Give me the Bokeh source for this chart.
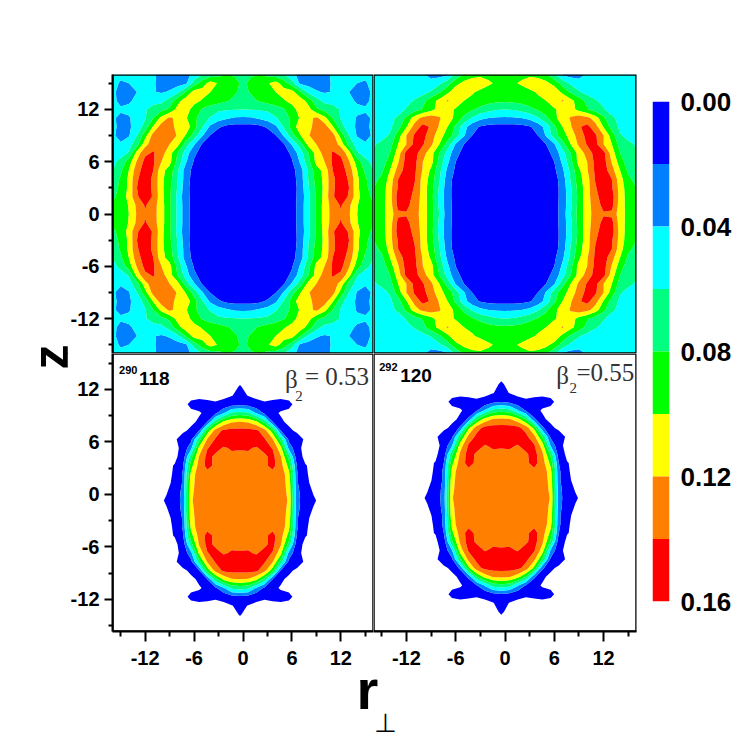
from bokeh.embed import file_html
from bokeh.layouts import column, row
from bokeh.models import BoxAnnotation, FixedTicker, Label, NumeralTickFormatter, Range1d
from bokeh.plotting import figure
from bokeh.resources import INLINE
import numpy as np

# colour bands, density levels
colors = ["#0000ff", "#0080ff", "#00ffff", "#00ff80", "#00ff00", "#ffff00", "#ff8000", "#ff0000"]
levels = [0.0, 0.02, 0.04, 0.06, 0.08, 0.10, 0.12, 0.14, 0.16]
levels_low = [0.002, 0.02, 0.04, 0.06, 0.08, 0.10, 0.12, 0.14, 0.16]
bar_ticks = [0.0, 0.04, 0.08, 0.12, 0.16]
major_ticks = [-12, -6, 0, 6, 12]
minor_ticks = [-15, -9, -3, 3, 9, 15]

# quarter grid: rows z=0..16, columns r=0..16, density x 1000
grid = list(range(17))

density_118_top = [
    [2, 2, 2, 3, 4, 6, 11, 28, 55, 84, 108, 128, 138, 122, 100, 90, 84],
    [2, 2, 2, 3, 4, 6, 11, 28, 55, 84, 108, 129, 142, 124, 101, 90, 83],
    [2, 2, 2, 3, 4, 6, 11, 27, 54, 84, 106, 138, 150, 138, 106, 88, 75],
    [2, 2, 2, 3, 4, 6, 10, 27, 58, 84, 105, 136, 152, 140, 104, 85, 70],
    [2, 2, 2, 3, 4, 6, 10, 30, 60, 88, 105, 136, 150, 138, 104, 83, 66],
    [2, 2, 3, 3, 4, 7, 13, 30, 62, 92, 106, 140, 150, 132, 100, 76, 60],
    [2, 2, 3, 3, 5, 8, 18, 42, 73, 106, 120, 143, 146, 122, 90, 66, 54],
    [2, 3, 3, 4, 6, 12, 24, 50, 79, 108, 128, 142, 136, 108, 62, 52, 48],
    [3, 3, 4, 5, 9, 18, 42, 70, 106, 120, 132, 133, 112, 72, 52, 42, 46],
    [4, 4, 5, 8, 19, 42, 72, 98, 118, 130, 139, 128, 92, 60, 38, 34, 43],
    [13, 12, 15, 23, 36, 62, 88, 112, 115, 126, 130, 102, 68, 48, 37, 36, 44],
    [37, 38, 43, 48, 58, 70, 85, 102, 114, 124, 106, 80, 58, 48, 38, 37, 42],
    [60, 61, 62, 64, 70, 78, 92, 108, 108, 84, 74, 68, 58, 50, 45, 42, 44],
    [70, 75, 82, 88, 92, 98, 106, 112, 92, 68, 54, 52, 48, 45, 37, 36, 44],
    [75, 82, 90, 96, 100, 108, 108, 82, 55, 42, 38, 41, 40, 40, 34, 34, 44],
    [76, 85, 92, 98, 108, 90, 68, 36, 32, 32, 34, 42, 46, 46, 40, 38, 46],
    [74, 78, 80, 74, 68, 60, 46, 33, 30, 30, 33, 44, 48, 46, 44, 44, 48],
]

density_120_top = [
    [2, 2, 2, 3, 4, 6, 12, 28, 60, 88, 112, 128, 138, 136, 108, 94, 95],
    [2, 2, 2, 3, 4, 6, 12, 28, 56, 88, 112, 130, 146, 146, 110, 92, 92],
    [2, 2, 2, 3, 4, 6, 12, 27, 55, 87, 112, 134, 150, 148, 112, 90, 86],
    [2, 2, 2, 3, 4, 6, 11, 28, 58, 88, 112, 138, 154, 142, 112, 88, 80],
    [2, 2, 3, 3, 4, 7, 12, 30, 62, 92, 112, 142, 154, 140, 108, 84, 74],
    [2, 2, 3, 3, 5, 8, 16, 36, 66, 96, 118, 144, 150, 128, 100, 76, 68],
    [2, 3, 3, 4, 6, 14, 20, 44, 74, 108, 120, 146, 148, 118, 90, 68, 64],
    [3, 3, 3, 4, 8, 14, 26, 52, 80, 108, 128, 148, 146, 110, 80, 62, 62],
    [3, 3, 4, 6, 10, 20, 38, 72, 100, 124, 142, 146, 120, 100, 72, 64, 58],
    [4, 4, 5, 9, 20, 42, 70, 92, 108, 130, 146, 143, 120, 90, 62, 54, 48],
    [13, 12, 14, 18, 28, 48, 76, 100, 118, 138, 146, 128, 98, 72, 56, 50, 46],
    [37, 38, 40, 45, 58, 76, 95, 110, 122, 132, 126, 110, 84, 64, 54, 48, 44],
    [60, 62, 66, 74, 82, 90, 98, 106, 110, 92, 82, 70, 62, 50, 46, 44, 44],
    [84, 85, 88, 92, 96, 100, 110, 122, 106, 90, 74, 62, 54, 48, 46, 44, 44],
    [90, 92, 94, 96, 102, 110, 116, 94, 76, 62, 52, 46, 43, 43, 43, 43, 44],
    [95, 98, 102, 110, 112, 106, 92, 72, 56, 46, 42, 41, 41, 42, 44, 44, 46],
    [92, 94, 96, 96, 92, 82, 64, 36, 32, 34, 42, 44, 46, 46, 46, 46, 48],
]

density_118_bottom = [
    [130, 130, 130, 130, 130, 128, 118, 28, 6, 3, 0, 0, 0, 0, 0, 0, 0],
    [130, 130, 130, 130, 130, 128, 116, 26, 5.5, 1.5, 0, 0, 0, 0, 0, 0, 0],
    [130, 130, 130, 130, 131, 128, 114, 22, 4, 0, 0, 0, 0, 0, 0, 0, 0],
    [132, 132, 132, 132, 133, 135, 105, 22, 3, 0, 0, 0, 0, 0, 0, 0, 0],
    [132, 133, 134, 136, 146, 128, 92, 18, 2.5, 0, 0, 0, 0, 0, 0, 0, 0],
    [134, 136, 137, 136, 146, 122, 72, 6, 0, 0, 0, 0, 0, 0, 0, 0, 0],
    [142, 142, 138, 146, 139, 106, 34, 4, 0, 0, 0, 0, 0, 0, 0, 0, 0],
    [146, 148, 150, 142, 122, 72, 14, 7, 0.4, 0, 0, 0, 0, 0, 0, 0, 0],
    [146, 146, 144, 128, 88, 20, 4, 0, 0, 0, 0, 0, 0, 0, 0, 0, 0],
    [120, 118, 104, 72, 20, 3.5, 0, 0, 0, 0, 0, 0, 0, 0, 0, 0, 0],
    [68, 64, 38, 16, 4, 1.2, 0.5, 0, 0, 0, 0, 0, 0, 0, 0, 0, 0],
    [15, 12, 5, 3, 4, 5, 3.5, 0, 0, 0, 0, 0, 0, 0, 0, 0, 0],
    [6, 1.5, 0, 0, 0, 0, 0, 0, 0, 0, 0, 0, 0, 0, 0, 0, 0],
    [2.5, 0, 0, 0, 0, 0, 0, 0, 0, 0, 0, 0, 0, 0, 0, 0, 0],
    [0, 0, 0, 0, 0, 0, 0, 0, 0, 0, 0, 0, 0, 0, 0, 0, 0],
    [0, 0, 0, 0, 0, 0, 0, 0, 0, 0, 0, 0, 0, 0, 0, 0, 0],
    [0, 0, 0, 0, 0, 0, 0, 0, 0, 0, 0, 0, 0, 0, 0, 0, 0],
]

density_120_bottom = [
    [130, 130, 130, 130, 130, 128, 119, 30, 6, 3, 0, 0, 0, 0, 0, 0, 0],
    [130, 130, 130, 130, 130, 128, 117, 28, 5.5, 1.5, 0, 0, 0, 0, 0, 0, 0],
    [130, 130, 130, 130, 131, 129, 115, 24, 4, 0, 0, 0, 0, 0, 0, 0, 0],
    [132, 132, 132, 132, 134, 136, 107, 24, 3, 0, 0, 0, 0, 0, 0, 0, 0],
    [132, 133, 134, 136, 147, 130, 94, 20, 2.5, 0, 0, 0, 0, 0, 0, 0, 0],
    [134, 136, 137, 137, 148, 124, 76, 8, 0, 0, 0, 0, 0, 0, 0, 0, 0],
    [143, 143, 139, 148, 142, 110, 38, 4, 0, 0, 0, 0, 0, 0, 0, 0, 0],
    [148, 150, 152, 145, 126, 78, 16, 7, 0.4, 0, 0, 0, 0, 0, 0, 0, 0],
    [148, 148, 146, 132, 94, 24, 4, 0, 0, 0, 0, 0, 0, 0, 0, 0, 0],
    [124, 122, 108, 78, 24, 3.5, 0, 0, 0, 0, 0, 0, 0, 0, 0, 0, 0],
    [72, 68, 42, 18, 4.5, 1.2, 0.5, 0, 0, 0, 0, 0, 0, 0, 0, 0, 0],
    [18, 14, 5, 3, 4, 5, 3.5, 0, 0, 0, 0, 0, 0, 0, 0, 0, 0],
    [7, 1.5, 0, 0, 0, 0, 0, 0, 0, 0, 0, 0, 0, 0, 0, 0, 0],
    [3, 0, 0, 0, 0, 0, 0, 0, 0, 0, 0, 0, 0, 0, 0, 0, 0],
    [0, 0, 0, 0, 0, 0, 0, 0, 0, 0, 0, 0, 0, 0, 0, 0, 0],
    [0, 0, 0, 0, 0, 0, 0, 0, 0, 0, 0, 0, 0, 0, 0, 0, 0],
    [0, 0, 0, 0, 0, 0, 0, 0, 0, 0, 0, 0, 0, 0, 0, 0, 0],
]

SANS = "Liberation Sans"
tick_text = {t: str(t) for t in major_ticks}


def mirror(table):
    t = np.array(table, dtype=float) / 1000.0
    t = np.hstack([t[:, :0:-1], t])
    return np.vstack([t[:0:-1, :], t])


def panel(table, lev, shift_r=0.0, shift_z=0.0, y_range=(-16, 16), left=False, bottom=False,
          frame_width=261, frame_height=279):
    p = figure(frame_width=frame_width, frame_height=frame_height,
               x_range=Range1d(-16, 16), y_range=Range1d(*y_range),
               toolbar_location=None, output_backend="svg",
               min_border_left=41 if left else 0, min_border_right=0 if left else 2,
               min_border_top=74 if frame_height == 279 else 0,
               min_border_bottom=44 if bottom else 0)
    axis_coord = np.array(grid, dtype=float)
    axis_coord = np.concatenate([-axis_coord[:0:-1], axis_coord])
    p.contour(axis_coord + shift_r, axis_coord + shift_z, mirror(table), lev,
              fill_color=colors, line_color=None)
    p.grid.visible = False
    p.outline_line_color = None
    # the contour paints over the plot outline, so draw the frame above it
    p.add_layout(BoxAnnotation(fill_color=None, line_color="black", line_alpha=1, line_width=2.5))
    p.xaxis.visible = bottom
    p.yaxis.visible = left
    for ax in list(p.xaxis) + list(p.yaxis):
        ax.ticker = FixedTicker(ticks=major_ticks, minor_ticks=minor_ticks)
        ax.major_label_overrides = tick_text
        ax.axis_line_width = 2
        ax.major_tick_line_width = 2
        ax.minor_tick_line_width = 2
        ax.major_tick_in = 0
        ax.minor_tick_in = 0
        ax.major_label_text_font = SANS
        ax.major_label_text_font_style = "bold"
        ax.major_label_text_font_size = "20px"
        ax.major_label_text_color = "black"
        ax.major_label_standoff = 5
    for ax in p.xaxis:
        ax.major_tick_out = 10
        ax.minor_tick_out = 5
        ax.major_label_standoff = 9
    for ax in p.yaxis:
        ax.major_tick_out = 8
        ax.minor_tick_out = 4
    return p


def note(p, x, y, text, size, font="Liberation Serif", style="normal", color="black",
         text_baseline="alphabetic", **kw):
    p.add_layout(Label(x=x, y=y, text=text, text_font=font, text_font_size=size,
                       text_font_style=style, text_color=color, text_baseline=text_baseline, **kw))


top_left = panel(density_118_top, levels, left=True)
top_right = panel(density_120_top, levels, frame_width=263)
bottom_left = panel(density_118_bottom, levels_low, shift_r=-0.37, shift_z=-0.7,
                    y_range=(-15.66, 16.11), left=True, bottom=True, frame_height=278)
bottom_right = panel(density_120_bottom, levels_low, shift_r=-0.45, shift_z=-0.4,
                     y_range=(-15.66, 16.11), bottom=True, frame_width=263, frame_height=278)

note(bottom_left, 5.15, 13.1, "\u03b2", "25px", color="#333333")
note(bottom_left, 6.4, 11.2, "2", "15px", color="#333333")
note(bottom_left, 7.6, 13.5, "= 0.53", "25px", color="#333333")
note(bottom_left, -15.2, 14.25, "290", "11px", font=SANS, style="bold")
note(bottom_left, -12.75, 13.2, "118", "19px", font=SANS, style="bold")

note(bottom_right, 6.25, 13.6, "\u03b2", "25px", color="#333333")
note(bottom_right, 7.84, 12.15, "2", "15px", color="#333333")
note(bottom_right, 8.7, 13.96, "=0.55", "25px", color="#333333")
note(bottom_right, -15.3, 14.55, "292", "11px", font=SANS, style="bold")
note(bottom_right, -12.75, 13.54, "120", "19px", font=SANS, style="bold")

# colour scale, reversed so 0.00 is on top
bar = figure(frame_width=17, frame_height=500, x_range=Range1d(0, 1), y_range=Range1d(0.16, 0.0),
             toolbar_location=None, output_backend="svg", x_axis_location=None,
             y_axis_location="right", min_border_left=14, min_border_right=58,
             min_border_top=101, min_border_bottom=74)
bar.quad(left=0, right=1, bottom=levels[:-1], top=levels[1:], fill_color=colors, line_color=None)
bar.grid.visible = False
bar.outline_line_color = None
bar.yaxis.ticker = FixedTicker(ticks=bar_ticks)
bar.yaxis.formatter = NumeralTickFormatter(format="0.00")
bar.yaxis.axis_line_color = None
bar.yaxis.major_tick_line_color = None
bar.yaxis.minor_tick_line_color = None
bar.yaxis.major_tick_out = 0
bar.yaxis.major_label_standoff = 11
bar.yaxis.major_label_text_font = SANS
bar.yaxis.major_label_text_font_style = "bold"
bar.yaxis.major_label_text_font_size = "26px"
bar.yaxis.major_label_text_color = "black"

# axis titles sit across the panel joins, so they get strips of their own
z_strip = figure(width=80, height=675, x_range=Range1d(0, 80), y_range=Range1d(675, 0),
                 toolbar_location=None, output_backend="svg", min_border=0,
                 x_axis_location=None, y_axis_location=None, margin=(0, -13, 0, 0))
z_strip.grid.visible = False
z_strip.outline_line_color = None
note(z_strip, 50, 345, "z", "50px", font=SANS, style="bold",
     angle=np.pi / 2, text_align="center", text_baseline="middle")

# the r strip is pulled up over the empty part of the lower axes
r_strip = figure(width=727, height=85, x_range=Range1d(0, 727), y_range=Range1d(85, 0),
                 toolbar_location=None, output_backend="svg", min_border=0,
                 x_axis_location=None, y_axis_location=None,
                 background_fill_alpha=0, border_fill_alpha=0, margin=(-22, 0, 0, 0))
r_strip.grid.visible = False
r_strip.outline_line_color = None
note(r_strip, 356, 36, "r", "56px", font=SANS, style="bold")
note(r_strip, 385, 69, "\u22a5", "26px", font="DejaVu Sans", text_align="center", text_baseline="middle")

p = column(row(z_strip, column(row(top_left, top_right), row(bottom_left, bottom_right)), bar), r_strip)

open("out.html", "w").write(file_html(p, INLINE))
